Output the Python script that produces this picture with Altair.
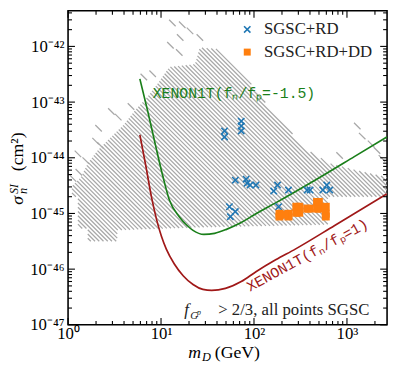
import math
import pandas as pd
import altair as alt

# ---------------- axis ranges and ticks ----------------
x_domain = [1, 2700]
y_domain = [1e-47, 4.37e-42]
x_major = [1, 10, 100, 1000]
x_minor = [k * 10 ** e for e in range(0, 4) for k in range(2, 10) if k * 10 ** e <= 2700]
y_major = [1e-47, 1e-46, 1e-45, 1e-44, 1e-43, 1e-42]
y_minor = [k * 10.0 ** e for e in range(-47, -42) for k in range(2, 10)] + [2e-42, 3e-42, 4e-42]

# ---------------- XENON1T limits ----------------
green_m = [5.92, 7.20, 8.75, 10.4, 12.3, 15.7, 19.1, 22.1, 28.9, 37.7, 50.5, 72.9, 105, 171, 453, 1200, 2685]
green_sigma = [2.61e-43, 6.82e-44, 1.64e-44, 4.85e-45, 1.75e-45, 8.77e-46, 6.08e-46, 4.97e-46, 4.21e-46,
               4.40e-46, 5.18e-46, 6.87e-46, 9.9e-46, 1.55e-45, 3.95e-45, 1.05e-44, 2.37e-44]
red_m = [5.92, 6.85, 7.93, 8.96, 10.1, 11.4, 13.9, 17.3, 22.1, 28.2, 35.1, 49.3, 72.9, 105, 171, 278, 738, 2685]
red_sigma = [2.57e-44, 7.27e-45, 1.90e-45, 7.76e-46, 3.89e-46, 2.29e-46, 1.24e-46, 7.63e-47, 5.30e-47,
             4.33e-47, 4.15e-47, 4.51e-47, 5.98e-47, 8.99e-47, 1.47e-46, 2.29e-46, 6.08e-46, 2.24e-45]

# ---------------- scan points ----------------
rd_m = [48.2, 48.2, 72.9, 72.9, 72.9, 63.0, 82.3, 84.3, 90.7, 105, 179, 163, 235, 373, 401, 550, 607, 653,
        54.4, 63.0, 55.7, 184]
rd_sigma = [3.03e-44, 2.37e-44, 4.54e-44, 3.71e-44, 3.03e-44, 3.95e-45, 4.12e-45, 3.50e-45, 3.23e-45,
            3.23e-45, 3.23e-45, 2.53e-45, 2.63e-45, 2.63e-45, 2.63e-45, 2.63e-45, 3.23e-45, 2.63e-45,
            1.32e-45, 1.08e-45, 8.77e-46, 1.32e-45]
dd_m = [188, 188, 235, 235, 213, 285, 307, 285, 307, 373, 391, 476, 499, 476, 499, 592, 592, 592]
dd_sigma = [9.9e-46, 8.8e-46, 9.9e-46, 8.8e-46, 9.5e-46, 1.32e-45, 1.03e-45, 1.03e-45, 1.32e-45, 1.22e-45,
            1.22e-45, 1.61e-45, 1.22e-45, 1.22e-45, 1.61e-45, 1.32e-45, 9.9e-46, 8.8e-46]

# ---------------- SGSC region (hatched), boundary in log10 units ----------------
region_log10_m = [0.042, 0.042, 0.106, 0.106, 0.212, 0.212, 0.529, 0.529, 1.386, 2.794, 2.794, 3.43, 3.43,
                  3.111, 2.815, 2.582, 2.233, 1.884, 1.630, 1.418, 1.365, 1.090, 0.963, 0.857, 0.709, 0.603,
                  0.455, 0.317, 0.212, 0.138]
region_log10_sigma = [-44.51, -44.70, -44.70, -45.27, -45.27, -45.50, -45.50, -45.30, -45.25, -45.20, -44.70,
                      -44.70, -44.35, -44.23, -44.10, -43.87, -43.25, -42.49, -42.05, -42.02, -42.32, -42.37,
                      -42.67, -42.90, -43.17, -43.40, -43.64, -43.87, -44.10, -44.35]
# isolated scan cells outside the dense core
sparse_log10_m = [1.122, 1.228, 1.312, 1.206, 1.418, 1.101, 1.196, 0.815, 0.910, 0.677, 0.466, 0.540, 0.328,
                  0.296, 0.349, 0.190, 0.106, 0.116, 0.053, 3.111, 3.164, 3.259, 3.323, 3.376, 2.921]
sparse_log10_sigma = [-41.58, -41.61, -41.72, -41.84, -41.84, -41.98, -42.11, -42.55, -42.49, -43.08, -43.17,
                      -43.27, -43.47, -43.70, -43.78, -44.05, -43.93, -44.26, -44.37, -43.43, -43.61, -43.75,
                      -43.87, -44.01, -43.96]

# ---------------- layout ----------------
W, H = 324, 319
LX0, LX1 = math.log10(x_domain[0]), math.log10(x_domain[1])
LY0, LY1 = math.log10(y_domain[0]), math.log10(y_domain[1])


def to_px(lm, ls):
    return (lm - LX0) / (LX1 - LX0) * W, (LY1 - ls) / (LY1 - LY0) * H


def to_data(u, v):
    return 10 ** (LX0 + u / W * (LX1 - LX0)), 10 ** (LY1 - v / H * (LY1 - LY0))


# hatch lines ("\\" direction) clipped to the region polygon
poly = [to_px(a, b) for a, b in zip(region_log10_m, region_log10_sigma)]
SP = 4.3
segs = []
cs = [v - u for u, v in poly]
for k in range(math.floor(min(cs) / SP), math.ceil(max(cs) / SP) + 1):
    c = k * SP + 0.37
    xs = []
    n = len(poly)
    for i in range(n):
        u1, v1 = poly[i]
        u2, v2 = poly[(i + 1) % n]
        f1, f2 = v1 - u1 - c, v2 - u2 - c
        if (f1 < 0) != (f2 < 0):
            t = f1 / (f1 - f2)
            xs.append(u1 + t * (u2 - u1))
    xs.sort()
    for j in range(0, len(xs) - 1, 2):
        segs.append((xs[j], xs[j] + c, xs[j + 1], xs[j + 1] + c))
for a, b in zip(sparse_log10_m, sparse_log10_sigma):
    u, v = to_px(a, b)
    segs.append((u - 3.3, v - 3.3, u + 3.3, v + 3.3))

rows = []
for u1, v1, u2, v2 in segs:
    xa, ya = to_data(u1, v1)
    xb, yb = to_data(u2, v2)
    rows.append({"x": xa, "y": ya, "x2": xb, "y2": yb})
hatch_df = pd.DataFrame(rows)

SERIF = "Liberation Serif"
MONO = "Liberation Mono"
GREEN = "#1a7f1a"
RED = "#a01818"
BLUE = "#1f77b4"
ORANGE = "#ff7f0e"

xs_ = alt.Scale(type="log", domain=x_domain, nice=False)
ys_ = alt.Scale(type="log", domain=y_domain, nice=False)


def sup(n):
    table = str.maketrans("0123456789-", "⁰¹²³⁴⁵⁶⁷⁸⁹⁻")
    return "10" + str(n).translate(table)


x_label_expr = " : ".join(
    [f"datum.value < {10 ** e * 3} ? '{sup(e)}'" for e in range(0, 3)]) + f" : '{sup(3)}'"
y_label_expr = " : ".join(
    [f"datum.value < {10.0 ** e * 3} ? '{sup(e)}'" for e in range(-47, -42)]) + f" : '{sup(-42)}'"

xaxis = alt.Axis(values=x_major, labelExpr=x_label_expr, ticks=False, domain=False, grid=False,
                 labelFont=SERIF, labelFontSize=17, labelColor="black", labelPadding=1,
                 labelFlush=False, labelOverlap=False, title=None)
yaxis = alt.Axis(values=y_major, labelExpr=y_label_expr, ticks=False, domain=False, grid=False,
                 labelFont=SERIF, labelFontSize=17, labelColor="black", labelPadding=4,
                 labelFlush=False, labelOverlap=False, title=None)


def X(f):
    return alt.X(f, type="quantitative", scale=xs_, axis=xaxis)


def Y(f):
    return alt.Y(f, type="quantitative", scale=ys_, axis=yaxis)


hatch = alt.Chart(hatch_df).mark_rule(color="#a8a8a8", strokeWidth=1.25, strokeCap="butt", clip=True).encode(
    x=X("x"), y=Y("y"), x2="x2", y2="y2")

green_df = pd.DataFrame({"m": green_m, "s": green_sigma})
red_df = pd.DataFrame({"m": red_m, "s": red_sigma})
green = alt.Chart(green_df).mark_line(color=GREEN, strokeWidth=1.7, interpolate="monotone", clip=True).encode(
    x=X("m"), y=Y("s"))
red = alt.Chart(red_df).mark_line(color=RED, strokeWidth=1.7, interpolate="monotone", clip=True).encode(
    x=X("m"), y=Y("s"))

XPATH = "M-1,-1L1,1M-1,1L1,-1"
rd = alt.Chart(pd.DataFrame({"m": rd_m, "s": rd_sigma})).mark_point(
    shape=XPATH, filled=False, stroke=BLUE, strokeWidth=1.6, size=42, opacity=1).encode(x=X("m"), y=Y("s"))
dd = alt.Chart(pd.DataFrame({"m": dd_m, "s": dd_sigma})).mark_point(
    shape="square", filled=True, fill=ORANGE, strokeWidth=0, size=64, opacity=1).encode(x=X("m"), y=Y("s"))


def rule_x(vals, y0, y1):
    return alt.Chart(pd.DataFrame({"v": vals})).mark_rule(color="black", strokeWidth=1.1).encode(
        x=X("v"), y=alt.value(y0), y2=alt.value(y1))


def rule_y(vals, x0, x1):
    return alt.Chart(pd.DataFrame({"v": vals})).mark_rule(color="black", strokeWidth=1.1).encode(
        y=Y("v"), x=alt.value(x0), x2=alt.value(x1))


MAJ, MIN = 7, 4
ticks = [
    rule_x(x_major, H, H - MAJ), rule_x(x_minor, H, H - MIN),
    rule_x(x_major, 0, MAJ), rule_x(x_minor, 0, MIN),
    rule_y(y_major, 0, MAJ), rule_y(y_minor, 0, MIN),
    rule_y(y_major, W, W - MAJ), rule_y(y_minor, W, W - MIN),
]


def label(text, x, y, **kw):
    return alt.Chart(pd.DataFrame({"t": [text]})).mark_text(**kw).encode(
        x=alt.value(x), y=alt.value(y), text="t:N")


texts = [
    # legend
    alt.Chart(pd.DataFrame({"t": ["a"]})).mark_point(
        shape=XPATH, filled=False, stroke=BLUE, strokeWidth=1.6, size=42, opacity=1).encode(
        x=alt.value(182), y=alt.value(19)),
    alt.Chart(pd.DataFrame({"t": ["b"]})).mark_point(
        shape="square", filled=True, fill=ORANGE, strokeWidth=0, size=50, opacity=1).encode(
        x=alt.value(182), y=alt.value(42)),
    label("SGSC+RD", 199, 19, font=SERIF, fontSize=17, align="left", baseline="middle", color="#222"),
    label("SGSC+RD+DD", 199, 42, font=SERIF, fontSize=17, align="left", baseline="middle", color="#222"),
    # curve labels
    label("XENON1T(fₙ/fₚ=-1.5)", 86, 89, font=MONO, fontSize=15, align="left", baseline="alphabetic",
          color=GREEN),
    label("XENON1T(fₙ/fₚ=1)", 243, 248, font=MONO, fontSize=15, align="center", baseline="middle",
          angle=331.4, color=RED),
    # annotation
    label("> 2/3, all points SGSC", 306, 309, font=SERIF, fontSize=17, align="right", baseline="alphabetic",
          color="#222"),
    label("f", 118, 309, font=SERIF, fontSize=17, fontStyle="italic", align="left", baseline="alphabetic",
          color="#222"),
    label("G", 124, 313, font=SERIF, fontSize=11, fontStyle="italic", align="left", baseline="alphabetic",
          color="#222"),
    label("p", 131, 309, font=SERIF, fontSize=8, fontStyle="italic", align="left", baseline="alphabetic",
          color="#222"),
    # x title
    label("m", 122, 353, font=SERIF, fontSize=18, fontStyle="italic", align="left", baseline="alphabetic"),
    label("D", 136, 356, font=SERIF, fontSize=12.5, fontStyle="italic", align="left", baseline="alphabetic"),
    label("(GeV)", 149, 353, font=SERIF, fontSize=18, align="left", baseline="alphabetic"),
    # y title (rotated)
    label("σ", -46, 197, font=SERIF, fontSize=18, fontStyle="italic", align="left", baseline="alphabetic",
          angle=270),
    label("n", -42, 186, font=SERIF, fontSize=12.5, fontStyle="italic", align="left", baseline="alphabetic",
          angle=270),
    label("SI", -51, 186, font=SERIF, fontSize=12, fontStyle="italic", align="left", baseline="alphabetic",
          angle=270),
    label("(cm²)", -46, 163, font=SERIF, fontSize=18, align="left", baseline="alphabetic", angle=270),
]

chart = alt.layer(hatch, green, red, rd, dd, *ticks, *texts).properties(
    width=W, height=H,
    autosize=alt.AutoSizeParams(type="none"),
    padding={"left": 61, "top": 0, "right": 4, "bottom": 37},
).configure_view(stroke="black", strokeWidth=1.6)

chart.save("out.html", embed_options={"renderer": "svg", "actions": False})
